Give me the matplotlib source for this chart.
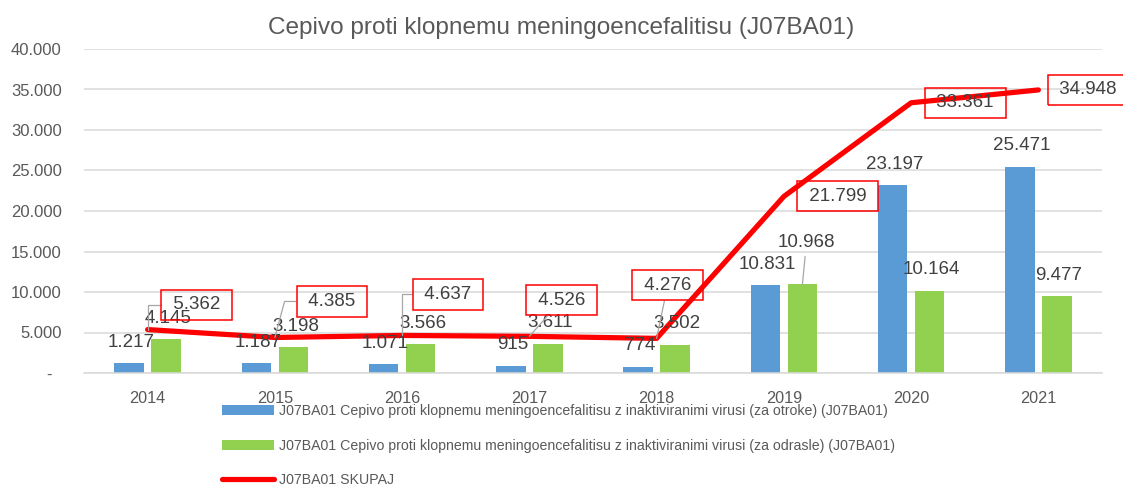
import numpy as np
import matplotlib.pyplot as plt

plt.rcParams['font.family'] = ['Liberation Sans', 'DejaVu Sans']

# poraba cepiva po letih
years = ['2014', '2015', '2016', '2017', '2018', '2019', '2020', '2021']
otroci = [1217, 1187, 1071, 915, 774, 10831, 23197, 25471]
odrasli = [4145, 3198, 3566, 3611, 3502, 10968, 10164, 9477]
skupaj = [5362, 4385, 4637, 4526, 4276, 21799, 33361, 34948]
y_ticks = [0, 5000, 10000, 15000, 20000, 25000, 30000, 35000, 40000]

title = 'Cepivo proti klopnemu meningoencefalitisu (J07BA01)'
label_otroci = 'J07BA01 Cepivo proti klopnemu meningoencefalitisu z inaktiviranimi virusi (za otroke) (J07BA01)'
label_odrasli = 'J07BA01 Cepivo proti klopnemu meningoencefalitisu z inaktiviranimi virusi (za odrasle) (J07BA01)'
label_skupaj = 'J07BA01 SKUPAJ'

# label placement (offset in pixels) and leader line style for the total line
total_offsets = [(49, 25), (57, 36), (46, 41), (32, 36), (11, 53), (54, 0), (54, 0), (50, 0)]
total_leaders = ['angle,angleA=0,angleB=90,rad=0', 'angle,angleA=0,angleB=75,rad=0',
                 'angle,angleA=0,angleB=90,rad=0', 'arc3', 'arc3', None, None, None]

BLUE = '#5B9BD5'
GREEN = '#92D050'
RED = '#FF0000'
GRID = '#D9D9D9'
TEXT = '#404040'
AXTEXT = '#595959'
LEADER = '#A6A6A6'


def fmt(v):
    return f'{v:,}'.replace(',', '.')


W, H = 1123, 486
fig = plt.figure(figsize=(W / 100, H / 100), dpi=100)
ax = fig.add_axes([84 / W, 1 - 373 / H, (1102 - 84) / W, (373 - 49) / H])

x = np.arange(len(years))
bw = 0.232
off = 0.146
b1 = ax.bar(x - off, otroci, bw, color=BLUE, label=label_otroci, zorder=2)
b2 = ax.bar(x + off, odrasli, bw, color=GREEN, label=label_odrasli, zorder=2)
ln, = ax.plot(x, skupaj, color=RED, lw=3.75, solid_capstyle='round',
              solid_joinstyle='round', label=label_skupaj, zorder=3)

ax.set_xlim(-0.5, len(years) - 0.5)
ax.set_ylim(0, 40000)
ax.set_xticks(x)
ax.set_xticklabels(years)
ax.set_yticks(y_ticks)
ax.set_yticklabels(['-  ' if v == 0 else fmt(v) for v in y_ticks])
ax.yaxis.grid(True, color=GRID, lw=1.1)
ax.set_axisbelow(True)
for s in ['top', 'right', 'left']:
    ax.spines[s].set_visible(False)
ax.spines['bottom'].set_color(GRID)
ax.spines['bottom'].set_linewidth(1.1)
ax.tick_params(axis='both', length=0, labelcolor=AXTEXT)
ax.tick_params(axis='x', labelsize=11.7, pad=13)
ax.tick_params(axis='y', labelsize=12, pad=16)

# data labels on bars
for i in range(len(years)):
    ax.annotate(fmt(otroci[i]), (x[i] - off, otroci[i]), xytext=(2, 21),
                textcoords='offset pixels', ha='center', va='center',
                fontsize=13.5, color=TEXT, zorder=4)
    if i == 5:
        ax.annotate(fmt(odrasli[i]), (x[i] + off, odrasli[i]), xytext=(4, 42),
                    textcoords='offset pixels', ha='center', va='center',
                    fontsize=13.5, color=TEXT, zorder=4,
                    bbox=dict(boxstyle='square,pad=0.3', fc='none', ec='none'),
                    arrowprops=dict(arrowstyle='-', color=LEADER, lw=0.9,
                                    shrinkA=0, shrinkB=0))
    else:
        ax.annotate(fmt(odrasli[i]), (x[i] + off, odrasli[i]), xytext=(2, 21),
                    textcoords='offset pixels', ha='center', va='center',
                    fontsize=13.5, color=TEXT, zorder=4)

# boxed labels for the total line
for i in range(len(years)):
    kw = {}
    if total_leaders[i] is not None:
        kw['arrowprops'] = dict(arrowstyle='-', color=LEADER, lw=0.9,
                                shrinkA=0, shrinkB=0,
                                connectionstyle=total_leaders[i])
    ax.annotate(' ' + fmt(skupaj[i]) + ' ', (x[i], skupaj[i]),
                xytext=total_offsets[i], textcoords='offset pixels',
                ha='center', va='center', fontsize=13.5, color=TEXT,
                annotation_clip=False, zorder=5,
                bbox=dict(boxstyle='square,pad=0.35', fc='none', ec=RED, lw=1.1),
                **kw)

fig.text(0.5, 1 - 28 / H, title, ha='center', va='center', fontsize=17.6, color=AXTEXT)

fig.legend(handles=[b1, b2, ln], loc='upper left',
           bbox_to_anchor=(222 / W, 1 - 404 / H), frameon=False,
           fontsize=10.2, labelcolor=AXTEXT, handlelength=3.7, handletextpad=0.35,
           labelspacing=1.45, borderpad=0, borderaxespad=0)

fig.savefig('out.png', dpi=100)
